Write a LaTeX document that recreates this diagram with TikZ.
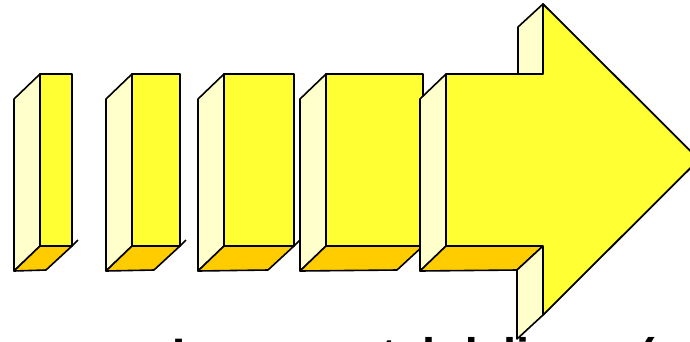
\documentclass[tikz,border=0pt]{standalone}
\usepackage{fontspec}
\setmainfont{Liberation Sans}
\usepackage{tikz}
\usetikzlibrary{calc}
\definecolor{faceyellow}{RGB}{255,255,51}
\definecolor{sideyellow}{RGB}{255,255,204}
\definecolor{bottomorange}{RGB}{255,204,0}
\tikzset{
    frontface/.style={fill=faceyellow, draw=black, line width=1.8pt, line join=round},
    sideface/.style={fill=sideyellow, draw=black, line width=1.6pt, line join=round},
    bottomface/.style={fill=bottomorange, draw=black, line width=1.6pt, line join=round}
}
\begin{document}
\begin{tikzpicture}[x=1pt,y=-1pt]
    \useasboundingbox (0,0) rectangle (690,341);
    % --- Growing boxes ---
    \foreach \xl/\xr in {40/72,132/180,224/294,326/423} {
        \draw[sideface] (\xl-26,99) -- (\xl,74) -- (\xl,246) -- (\xl-26,271) -- cycle;
        \draw[bottomface] (\xl-26,271) -- (\xl,246) -- (\xr,246) -- (\xr-26,270) -- cycle;
        \draw[frontface] (\xl,74) rectangle (\xr,246);
        \draw[line width=1.6pt] (\xr,246) -- (\xr+6,240);
    }

    % --- Big arrow ---
    \draw[sideface] (518,97) -- (518,27) -- (543,4) -- (543,74) -- cycle;
    \draw[sideface] (420,99) -- (446,74) -- (446,246) -- (420,271) -- cycle;
    \draw[bottomface] (420,271) -- (446,246) -- (543,246) -- (517,270) -- cycle;
    \draw[sideface] (517,270) -- (543,246) -- (543,315) -- (517,339) -- cycle;
    \draw[frontface] (446,74) -- (543,74) -- (543,4) -- (699,159.5)
        -- (543,315) -- (543,246) -- (446,246) -- cycle;

    % caption, cut by the lower edge
    \node[anchor=base west, inner sep=0pt, font=\fontsize{47}{50}\selectfont\bfseries]
        (caption) at (172,371) {Incremental delivery (small releases)};
\end{tikzpicture}
\end{document}
